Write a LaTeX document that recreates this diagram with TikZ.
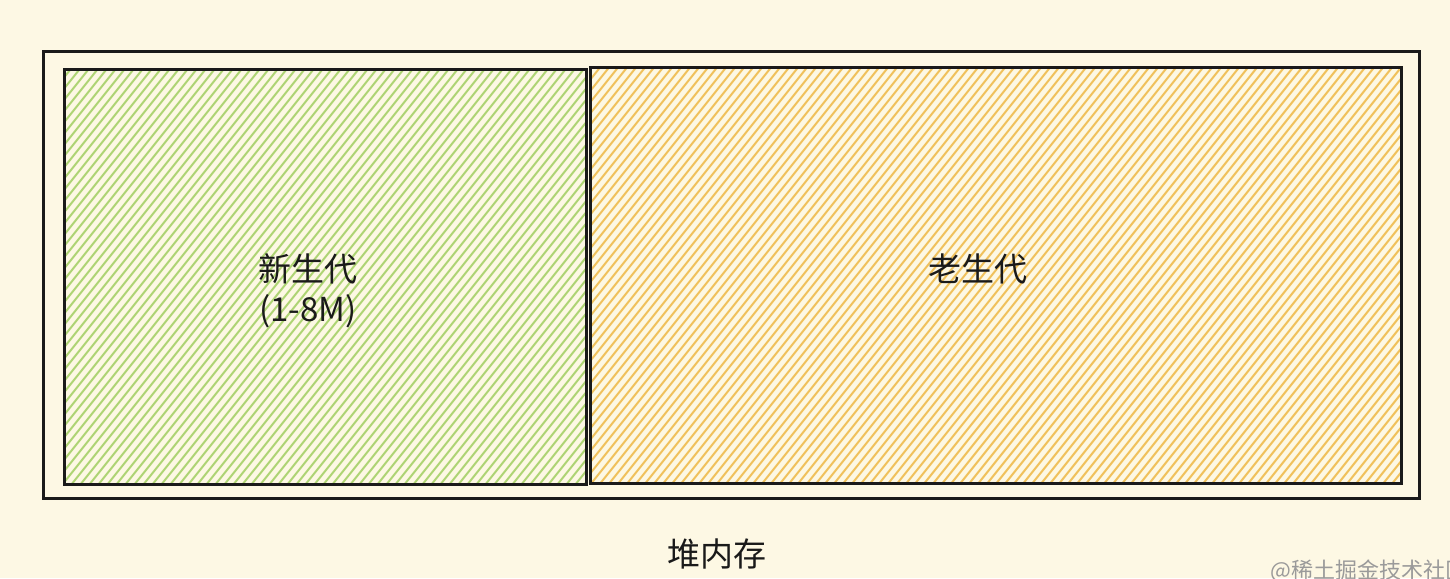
\documentclass[tikz,border=0pt]{standalone}
\usepackage{fontspec}
\newfontfamily\cjk{Noto Sans CJK SC}
\definecolor{bg}{HTML}{FDF8E4}
\definecolor{greenh}{HTML}{AED474}
\definecolor{orangeh}{HTML}{F0C15C}
\definecolor{ink}{HTML}{1A1A1A}
\definecolor{wm}{HTML}{9A9A9A}
\tikzset{
  frame/.style={draw=ink, line width=1.6pt},
  box/.style={draw=ink, line width=1.3pt},
  hatch/.style={line width=1pt},
  lbl/.style={font=\cjk\fontsize{16.5}{20}\selectfont, text=ink, align=center}
}
\begin{document}
\begin{tikzpicture}[x=0.5pt,y=-0.5pt]
\fill[bg] (0,0) rectangle (1450,578);
\useasboundingbox (0,0) rectangle (1450,578);
% green hatch
\begin{scope}
\clip (63,68) rectangle (585,483);
\foreach \i in {-500,-491,...,700}{
  \draw[hatch, greenh] (\i,490) -- ++(400,-500);
}
\end{scope}
% orange hatch
\begin{scope}
\clip (589,66) rectangle (1400,482);
\foreach \i in {100,109,...,1500}{
  \draw[hatch, orangeh] (\i,490) -- ++(400,-500);
}
\end{scope}
\node[frame, minimum width=688pt, minimum height=223.5pt, inner sep=0pt, anchor=north west] (heap) at (42,50) {};
\node[box, minimum width=261pt, minimum height=207.5pt, inner sep=0pt, anchor=north west] (young) at (63,68) {};
\node[box, minimum width=405.5pt, minimum height=208pt, inner sep=0pt, anchor=north west] (old) at (589,66) {};
\node[lbl] (ytxt) at (308,291) {新生代\\(1-8M)};
\node[lbl] (otxt) at (978,269) {老生代};
\node[lbl] (htxt) at (717,554) {堆内存};
\node[font=\cjk\fontsize{11}{13}\selectfont, text=wm, anchor=south west, inner sep=0pt] (wmk) at (1270,583) {@稀土掘金技术社区};
\end{tikzpicture}
\end{document}
